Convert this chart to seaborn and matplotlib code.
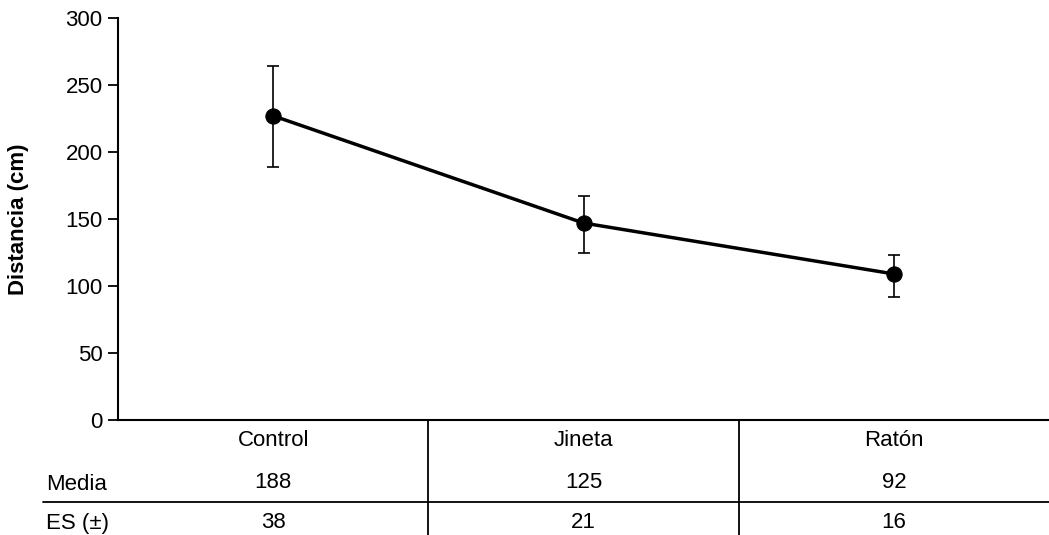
import numpy as np
import pandas as pd
import matplotlib
matplotlib.use("Agg")
import matplotlib.pyplot as plt
import matplotlib.transforms as mtransforms
import seaborn as sns

# datos
grupos   = ["Control", "Jineta", "Ratón"]
medias   = [227, 147, 109]
err_inf  = [189, 125, 92]
err_sup  = [264, 167, 123]
tabla_media = ["188", "125", "92"]
tabla_es    = ["38", "21", "16"]
y_ticks  = [0, 50, 100, 150, 200, 250, 300]

sns.set_theme(style="white")
plt.rcParams["font.family"] = ["Liberation Sans", "DejaVu Sans"]
plt.rcParams["text.color"] = "black"
plt.rcParams["ytick.color"] = "black"
plt.rcParams["axes.labelcolor"] = "black"

FS = 16
W, H = 1049, 535
fig = plt.figure(figsize=(W / 100, H / 100), dpi=100)
ax = fig.add_axes([118 / W, (H - 420) / H, (W - 118) / W, 402 / H])

df = pd.DataFrame({"x": np.arange(len(grupos)), "y": medias})
sns.lineplot(data=df, x="x", y="y", ax=ax, color="black", linewidth=2.5,
             marker="o", markersize=11, markeredgecolor="black")
lo = np.array(medias) - np.array(err_inf)
hi = np.array(err_sup) - np.array(medias)
ax.errorbar(df["x"], df["y"], yerr=[lo, hi], fmt="none", ecolor="black",
            elinewidth=1.2, capsize=4.5, capthick=1.2)

ax.set_xlim(-0.5, 2.5)
ax.set_ylim(0, 300)
ax.set_yticks(y_ticks)
ax.set_xticks([])
ax.set_xlabel("")
ax.set_ylabel("Distancia (cm)", fontsize=FS, fontweight="bold", labelpad=26)
ax.tick_params(axis="y", labelsize=FS, length=7, width=1.3, direction="out",
               left=True, color="black", labelcolor="black", pad=4)
for s in ["top", "right"]:
    ax.spines[s].set_visible(False)
for s in ["left", "bottom"]:
    ax.spines[s].set_color("black")
    ax.spines[s].set_linewidth(1.5)

# tabla inferior
def fy(px):
    return (H - px) / H

tr = mtransforms.blended_transform_factory(ax.transData, fig.transFigure)
for i, g in enumerate(grupos):
    ax.text(i, fy(440), g, transform=tr, ha="center", va="center", fontsize=FS)
    ax.text(i, fy(483), tabla_media[i], transform=tr, ha="center", va="center", fontsize=FS)
    ax.text(i, fy(522), tabla_es[i], transform=tr, ha="center", va="center", fontsize=FS)
for xb in [0.5, 1.5]:
    ax.plot([xb, xb], [fy(420), 0], transform=tr, color="black", lw=1.3, clip_on=False)

fig.text(46 / W, fy(485), "Media", ha="left", va="center", fontsize=FS)
fig.text(46 / W, fy(523), "ES (±)", ha="left", va="center", fontsize=FS)
fig.add_artist(plt.Line2D([43 / W, 1], [fy(502), fy(502)], color="black", lw=1.3))

fig.savefig("out.png", dpi=100)
